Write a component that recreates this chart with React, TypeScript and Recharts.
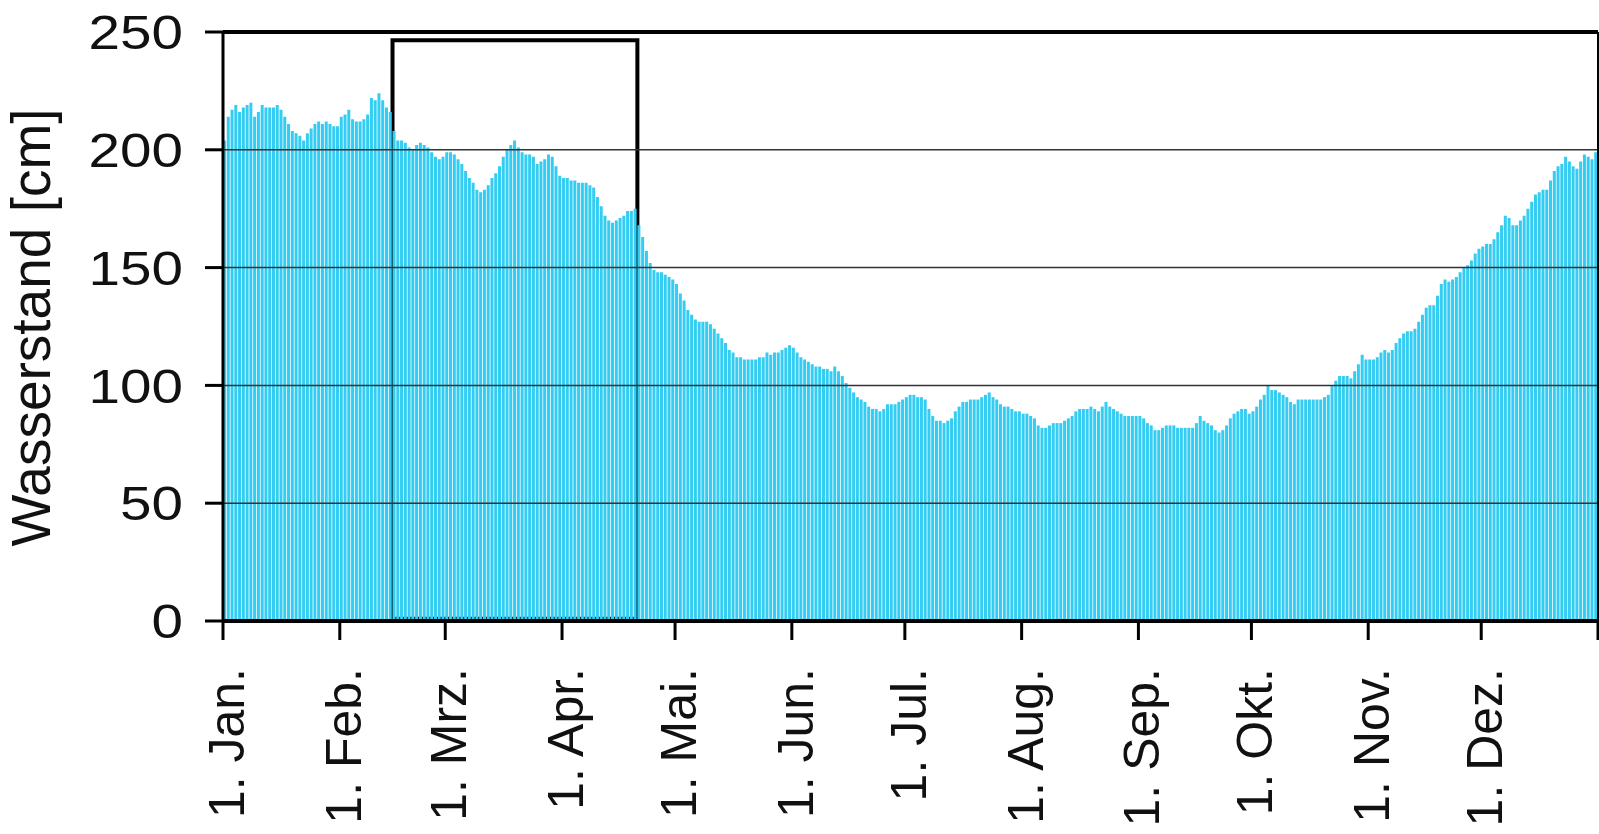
import React from 'react';
import { BarChart, Bar, XAxis, YAxis, ReferenceLine, ReferenceArea } from 'recharts';

// Daily water level (cm), one array per month
const jan = [204,214,217,219,216,218,219,220,214,216,219,218,218,218,219,217,214,211,208,207,206,204,207,209,211,212,211,212,211,210,210];
const feb = [214,215,217,213,212,212,213,215,222,221,224,221,218,216,208,204,204,203,201,200,202,203,202,201,199,197,196,197];
const mar = [199,199,198,196,194,191,188,186,183,182,183,185,188,190,193,197,200,202,204,201,199,198,198,197,194,195,196,198,197,193,189];
const apr = [188,188,187,187,186,186,186,185,184,180,176,172,170,169,170,171,172,174,174,175,168,163,157,152,149,148,148,147,146,145];
const may = [143,139,136,132,130,128,127,127,127,126,124,122,120,118,115,114,112,112,111,111,111,111,112,112,114,113,114,114,115,116,117];
const jun = [116,114,112,111,110,109,108,108,107,107,106,108,106,104,101,99,97,95,94,93,91,90,90,89,90,92,92,92,93,94];
const jul = [95,96,96,95,95,94,90,87,85,85,84,85,86,89,91,93,93,94,94,94,95,96,97,95,94,92,91,91,90,89,89];
const aug = [88,88,87,86,83,82,82,83,84,84,84,85,86,87,89,90,90,90,91,90,89,91,93,91,90,89,88,87,87,87,87];
const sep = [87,86,84,83,81,81,82,83,83,83,82,82,82,82,82,84,87,85,84,83,81,80,81,83,86,88,89,90,90,88];
const okt = [89,91,94,96,100,98,98,97,96,95,93,92,94,94,94,94,94,94,94,95,96,100,102,104,104,104,103,106,109,113,111];
const nov = [111,111,112,114,115,114,115,118,120,122,123,123,124,127,130,133,134,134,138,143,145,144,145,146,148,150,151,153,156,158];
const dez = [159,160,160,162,165,168,172,171,168,168,170,172,175,178,181,182,183,183,187,191,193,194,197,195,193,192,195,198,197,196,199];

const monthLabels = ['1. Jan.','1. Feb.','1. Mrz.','1. Apr.','1. Mai.','1. Jun.','1. Jul.','1. Aug.','1. Sep.','1. Okt.','1. Nov.','1. Dez.'];
const yTicks = [0, 50, 100, 150, 200, 250];
const gridValues = [50, 100, 150, 200];
const yTitle = 'Wasserstand [cm]';
// highlighted period (day indices) and its value span
const highlightStart = 45;
const highlightEnd = 110;
const highlightLow = 1;
const highlightHigh = 246.5;

const monthArrays = [jan, feb, mar, apr, may, jun, jul, aug, sep, okt, nov, dez];
const levels: number[] = monthArrays.flat();
const monthStarts: number[] = [];
{
  let acc = 0;
  for (const m of monthArrays) { monthStarts.push(acc); acc += m.length; }
}
const xTicks = [...monthStarts, levels.length];
const data = levels.map((v, i) => ({ day: i + 0.5, level: v }));

const FONT = '"Liberation Sans", Arial, Helvetica, sans-serif';

function YTick(props: any) {
  const { x, y, payload } = props;
  return (
    <g transform={`translate(${x},${y}) scale(1.18,1)`}>
      <text x={0} y={0} dy="0.36em" textAnchor="end" fontSize={48} fontFamily={FONT} fill="#111">
        {payload.value}
      </text>
    </g>
  );
}

function XTick(props: any) {
  const { x, y, payload } = props;
  const idx = monthStarts.indexOf(payload.value);
  if (idx < 0) return <g />;
  return (
    <g transform={`translate(${x + 21},${y}) rotate(-90)`}>
      <text x={0} y={0} textAnchor="end" fontSize={50} fontFamily={FONT} fill="#111">
        {monthLabels[idx]}
      </text>
    </g>
  );
}

function YTitle(props: any) {
  const vb = props.viewBox || { x: 0, y: 32, width: 223, height: 589 };
  const cy = vb.y + vb.height / 2 + 1;
  return (
    <text transform={`translate(50,${cy}) rotate(-90)`} textAnchor="middle" fontSize={55} fontFamily={FONT} fill="#111">
      {yTitle}
    </text>
  );
}

export default function App() {
  return (
    <div style={{ position: 'absolute', left: 0, top: 0, width: 1599, height: 834, background: '#fff' }}>
      <BarChart width={1599} height={834} data={data} margin={{ top: 32, right: 1, left: 0, bottom: 0 }} barCategoryGap={0}>
        <XAxis
          dataKey="day"
          type="number"
          domain={[0, levels.length]}
          ticks={xTicks}
          interval={0}
          height={213}
          tickSize={19}
          tickMargin={28}
          axisLine={{ stroke: '#000', strokeWidth: 4 }}
          tickLine={{ stroke: '#000', strokeWidth: 3 }}
          tick={<XTick />}
          allowDataOverflow
        />
        <YAxis
          type="number"
          domain={[0, 250]}
          ticks={yTicks}
          interval={0}
          width={223}
          tickSize={18}
          tickMargin={22}
          axisLine={{ stroke: '#000', strokeWidth: 3 }}
          tickLine={{ stroke: '#000', strokeWidth: 3 }}
          tick={<YTick />}
          label={{ content: (p: any) => <YTitle {...p} /> }}
          allowDataOverflow
        />
        <Bar dataKey="level" fill="#33CCF2" barSize={3} isAnimationActive={false} />
        {gridValues.map((g) => (
          <ReferenceLine key={g} y={g} stroke="#333" strokeWidth={1.5} />
        ))}
        <ReferenceLine y={250} stroke="#000" strokeWidth={4} />
        <ReferenceLine x={levels.length} stroke="#000" strokeWidth={2} />
        <ReferenceArea
          x1={highlightStart}
          x2={highlightEnd}
          y1={highlightLow}
          y2={highlightHigh}
          fill="none"
          fillOpacity={0}
          stroke="#000"
          strokeWidth={4}
        />
      </BarChart>
    </div>
  );
}
